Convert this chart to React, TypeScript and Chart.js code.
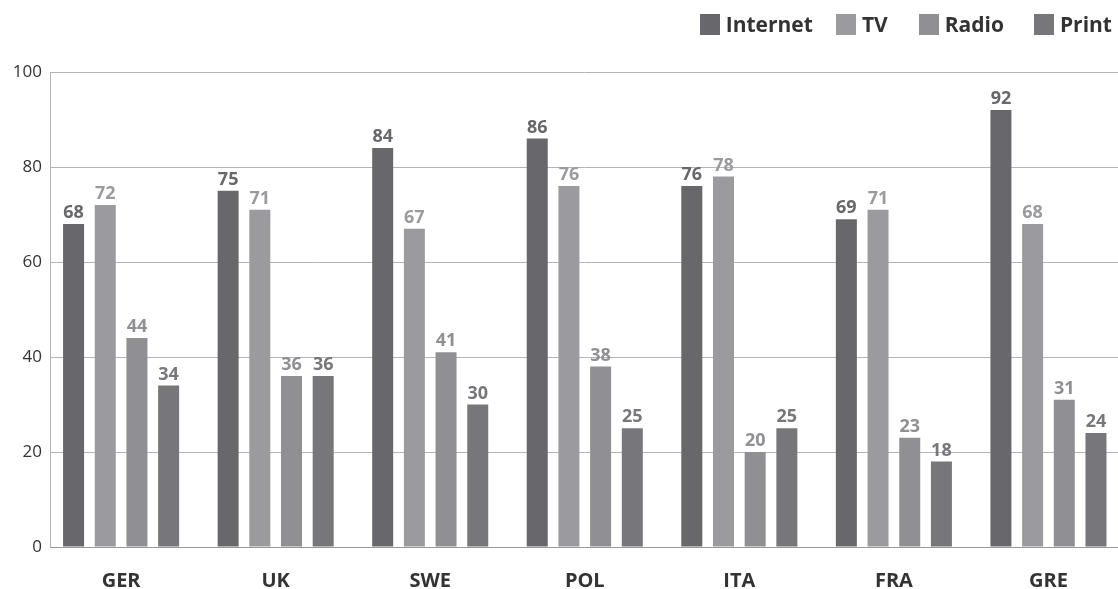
import React, { useEffect, useRef } from "react";
import { Chart, registerables } from "chart.js";

Chart.register(...registerables);

const categories = ["GER", "UK", "SWE", "POL", "ITA", "FRA", "GRE"];
const internetValues = [68, 75, 84, 86, 76, 69, 92];
const tvValues = [72, 71, 67, 76, 78, 71, 68];
const radioValues = [44, 36, 41, 38, 20, 23, 31];
const printValues = [34, 36, 30, 25, 25, 18, 24];
const seriesNames = ["Internet", "TV", "Radio", "Print"];
const seriesColors = ["#68686c", "#9b9b9f", "#909094", "#77777b"];
const yTicks = [0, 20, 40, 60, 80, 100];

const FONT = "'Open Sans', 'DejaVu Sans', sans-serif";
const legendGaps = [0, 23, 31, 30];

const valueLabels = {
  id: "valueLabels",
  afterDatasetsDraw(chart: any) {
    const ctx = chart.ctx;
    ctx.save();
    ctx.font = `bold 18px ${FONT}`;
    ctx.textAlign = "center";
    ctx.textBaseline = "alphabetic";
    chart.data.datasets.forEach((ds: any, di: number) => {
      const meta = chart.getDatasetMeta(di);
      ctx.fillStyle = seriesColors[di];
      meta.data.forEach((el: any, i: number) => {
        const v = ds.data[i].y;
        ctx.fillText(String(v), el.x, el.y - 6);
      });
    });
    ctx.restore();
  },
};

export default function App() {
  const ref = useRef<HTMLCanvasElement | null>(null);

  useEffect(() => {
    if (!ref.current) return;
    const seriesValues = [internetValues, tvValues, radioValues, printValues];
    const chart = new Chart(ref.current, {
      type: "bar",
      data: {
        datasets: seriesValues.map((vals, si) => ({
          label: seriesNames[si],
          data: vals.map((v, i) => ({ x: i, y: v })),
          backgroundColor: seriesColors[si],
          borderWidth: 0,
          categoryPercentage: 0.82,
          barPercentage: 0.663,
        })),
      },
      options: {
        animation: false,
        responsive: true,
        maintainAspectRatio: false,
        layout: { padding: { top: 72, left: 0, right: 0, bottom: 0 } },
        plugins: {
          legend: { display: false },
          tooltip: { enabled: false },
        },
        scales: {
          x: {
            type: "linear",
            min: -0.46,
            max: 6.45,
            offset: false,
            grid: { display: false },
            border: { display: true, color: "#9a9a9a", width: 1 },
            afterBuildTicks: (scale: any) => {
              scale.ticks = categories.map((_, i) => ({ value: i }));
            },
            afterFit: (scale: any) => {
              scale.height = 42;
            },
            ticks: {
              autoSkip: false,
              maxRotation: 0,
              padding: 14,
              color: "#333333",
              font: { family: FONT, size: 20, weight: "bold" },
              callback: (v: any) => categories[Math.round(Number(v))] ?? "",
            },
          },
          y: {
            min: 0,
            max: 100,
            afterBuildTicks: (scale: any) => {
              scale.ticks = yTicks.map((v) => ({ value: v }));
            },
            afterFit: (scale: any) => {
              scale.width = 50;
            },
            grid: { color: "#b4b4b4", lineWidth: 1, drawTicks: false },
            border: { display: true, color: "#b4b4b4", width: 1 },
            ticks: {
              padding: 8,
              color: "#333333",
              font: { family: FONT, size: 17 },
            },
          },
        },
      },
      plugins: [valueLabels],
    } as any);
    return () => chart.destroy();
  }, []);

  return (
    <div
      style={{
        position: "absolute",
        left: 0,
        top: 0,
        width: 1118,
        height: 589,
        background: "#ffffff",
      }}
    >
      <canvas ref={ref} />
      <div
        style={{
          position: "absolute",
          top: 11,
          right: 6,
          display: "flex",
          alignItems: "center",
          fontFamily: FONT,
          fontWeight: "bold",
          fontSize: 21,
          color: "#333333",
          lineHeight: "26px",
        }}
      >
        {seriesNames.map((n, i) => (
          <div
            key={n}
            style={{
              display: "flex",
              alignItems: "center",
              marginLeft: legendGaps[i],
            }}
          >
            <span
              style={{
                display: "inline-block",
                width: 20,
                height: 21,
                background: seriesColors[i],
                marginRight: 6,
              }}
            />
            <span>{n}</span>
          </div>
        ))}
      </div>
    </div>
  );
}
